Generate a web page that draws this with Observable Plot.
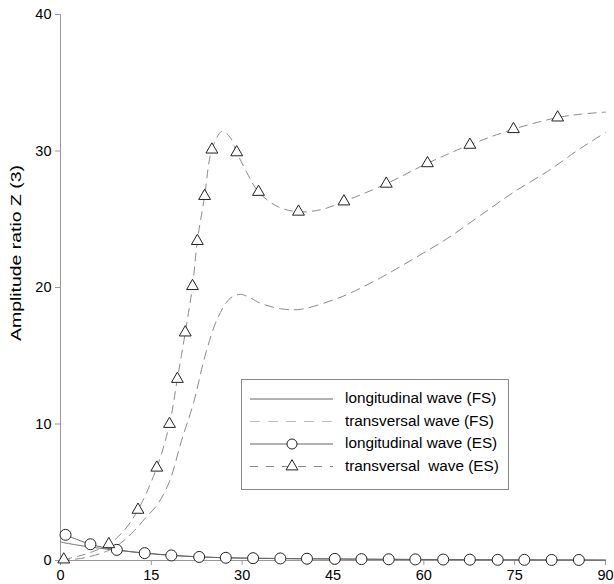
<!DOCTYPE html>
<html>
<head>
<meta charset="utf-8">
<script src="https://cdn.jsdelivr.net/npm/d3@7"></script>
<script src="https://cdn.jsdelivr.net/npm/@observablehq/plot@0.6"></script>
<style>
  html, body { margin: 0; padding: 0; background: #fff; }
  #chart { width: 614px; height: 584px; }
</style>
</head>
<body>
<div id="chart"></div>
<script>
// ---- Data ----
const xTicks = [0, 15, 30, 45, 60, 75, 90];
const yTicks = [0, 10, 20, 30, 40];
const yTitle = "Amplitude ratio Z (3)";
const legendLabels = [
  "longitudinal wave (FS)",
  "transversal wave (FS)",
  "longitudinal wave (ES)",
  "transversal  wave (ES)"
];

// longitudinal wave (FS) – solid line, no markers
const longFS_x = [0, 2.5, 5, 7.5, 10, 14, 18, 23, 27, 32, 40, 50, 60, 70, 80, 90];
const longFS_y = [1.35, 1.15, 0.98, 0.84, 0.72, 0.54, 0.4, 0.27, 0.2, 0.16, 0.12, 0.09, 0.07, 0.05, 0.04, 0.03];

// transversal wave (FS) – dashed line, no markers
const transFS_x = [0, 4, 8, 10, 12, 14, 16, 18, 20, 22, 24, 26, 28, 29.7, 31.5, 33, 36.3, 39.6, 45.1, 47.9, 52.8, 58.3, 63.9, 69.4, 74.9, 80.4, 85.9, 90];
const transFS_y = [0, 0.2, 0.75, 1.3, 2.1, 3.1, 4.1, 5.8, 8.8, 11.6, 15.2, 17.8, 19.2, 19.5, 19.2, 18.85, 18.45, 18.4, 19.1, 19.6, 20.7, 22.1, 23.6, 25.3, 27.0, 28.5, 30.2, 31.35];

// longitudinal wave (ES) – solid line with circles
const longES_x = [0.83, 4.94, 9.3, 13.9, 18.3, 22.9, 27.3, 31.8, 36.3, 40.7, 45.3, 49.7, 54.2, 58.6, 63.2, 67.6, 72.2, 76.6, 81.1, 85.6, 90];
const longES_y = [1.88, 1.19, 0.78, 0.54, 0.37, 0.26, 0.2, 0.17, 0.15, 0.13, 0.12, 0.1, 0.09, 0.08, 0.07, 0.06, 0.05, 0.05, 0.04, 0.04, 0.03];
const longES_marker = [true, true, true, true, true, true, true, true, true, true, true, true, true, true, true, true, true, true, true, true, false];

// transversal wave (ES) – dashed line with triangles
const transES_x = [0.54, 3, 5.5, 7.98, 10.5, 12.8, 15.9, 18.0, 19.3, 20.6, 21.8, 22.6, 23.8, 25.0, 26.7, 28, 29.1, 30.8, 32.7, 36, 39.3, 43, 46.8, 53.8, 60.6, 67.6, 74.8, 82.1, 86, 90];
const transES_y = [0.07, 0.32, 0.68, 1.19, 2.2, 3.71, 6.8, 10.0, 13.3, 16.7, 20.1, 23.4, 26.7, 30.1, 31.45, 31.0, 29.9, 28.4, 27.0, 25.9, 25.55, 25.7, 26.3, 27.6, 29.1, 30.45, 31.6, 32.45, 32.7, 32.85];
const transES_marker = [true, false, false, true, false, true, true, true, true, true, true, true, true, true, false, false, true, false, true, false, true, false, true, true, true, true, true, true, false, false];

// ---- Build tables ----
const zip = (xs, ys, m) => xs.map((x, i) => ({x, y: ys[i], m: m ? m[i] : false}));
const longFS = zip(longFS_x, longFS_y);
const transFS = zip(transFS_x, transFS_y);
const longES = zip(longES_x, longES_y, longES_marker);
const transES = zip(transES_x, transES_y, transES_marker);

const FONT = "'Liberation Sans', Arial, sans-serif";

const chart = Plot.plot({
  width: 614,
  height: 584,
  marginLeft: 60,
  marginRight: 9,
  marginTop: 14,
  marginBottom: 24,
  style: {fontFamily: FONT, fontSize: "14px", color: "black", background: "white"},
  x: {domain: [0, 90]},
  y: {domain: [0, 40]},
  marks: [
    Plot.ruleX([0], {stroke: "#999", strokeWidth: 1}),
    Plot.ruleY([0], {stroke: "#999", strokeWidth: 1}),
    Plot.axisX({ticks: xTicks, tickSize: 5, tickPadding: 4, stroke: "#999", fill: "black", fontSize: 14.5, label: null, tickFormat: d => String(d)}),
    Plot.axisY({ticks: yTicks, tickSize: 5, tickPadding: 4, stroke: "#999", fill: "black", fontSize: 14.5, label: null, tickFormat: d => String(d)}),
    Plot.line(transFS, {x: "x", y: "y", curve: "catmull-rom", stroke: "#8a8a8a", strokeWidth: 1, strokeDasharray: "9,6"}),
    Plot.line(transES, {x: "x", y: "y", curve: "catmull-rom", stroke: "#8a8a8a", strokeWidth: 1, strokeDasharray: "8,6"}),
    Plot.line(longFS, {x: "x", y: "y", curve: "catmull-rom", stroke: "#777", strokeWidth: 1}),
    Plot.line(longES, {x: "x", y: "y", curve: "catmull-rom", stroke: "#666", strokeWidth: 1}),
    Plot.dot(longES.filter(d => d.m), {x: "x", y: "y", r: 5.5, symbol: "circle", stroke: "#222", fill: "white", strokeWidth: 1}),
    Plot.dot(transES.filter(d => d.m), {x: "x", y: "y", r: 4.4, symbol: "triangle", stroke: "#222", fill: "white", strokeWidth: 1})
  ]
});

document.getElementById("chart").appendChild(chart);

// ---- Overlay: y-axis title and legend ----
const svg = d3.select(chart);
svg.append("text")
  .attr("transform", "translate(17,253) rotate(-90)")
  .attr("text-anchor", "middle")
  .attr("dominant-baseline", "middle")
  .attr("font-family", FONT)
  .attr("font-size", 15)
  .attr("textLength", 176)
  .attr("lengthAdjust", "spacingAndGlyphs")
  .attr("fill", "black")
  .text(yTitle);

const lg = svg.append("g").attr("text-anchor", "start");
lg.append("rect")
  .attr("x", 241.5).attr("y", 379.5).attr("width", 267).attr("height", 110)
  .attr("fill", "white").attr("stroke", "#888").attr("stroke-width", 1);
const rowY = [399, 421.5, 444, 466.5];
const rowStroke = ["#666", "#bbb", "#666", "#888"];
const rowDash = [null, "10,8", null, "8,8"];
rowY.forEach((yy, i) => {
  lg.append("line")
    .attr("x1", 250).attr("x2", 333).attr("y1", yy).attr("y2", yy)
    .attr("stroke", rowStroke[i]).attr("stroke-width", 1)
    .attr("stroke-dasharray", rowDash[i]);
  lg.append("text")
    .attr("x", 345).attr("y", yy)
    .attr("text-anchor", "start")
    .attr("dominant-baseline", "middle")
    .attr("font-family", FONT).attr("font-size", 15.3).attr("fill", "black")
    .text(legendLabels[i]);
});
lg.append("circle").attr("cx", 292).attr("cy", rowY[2]).attr("r", 5)
  .attr("fill", "white").attr("stroke", "#222");
lg.append("path")
  .attr("transform", `translate(292,${rowY[3]})`)
  .attr("d", d3.symbol(d3.symbolTriangle, 4.4 * 4.4 * Math.PI)())
  .attr("fill", "white").attr("stroke", "#222");
</script>
</body>
</html>
